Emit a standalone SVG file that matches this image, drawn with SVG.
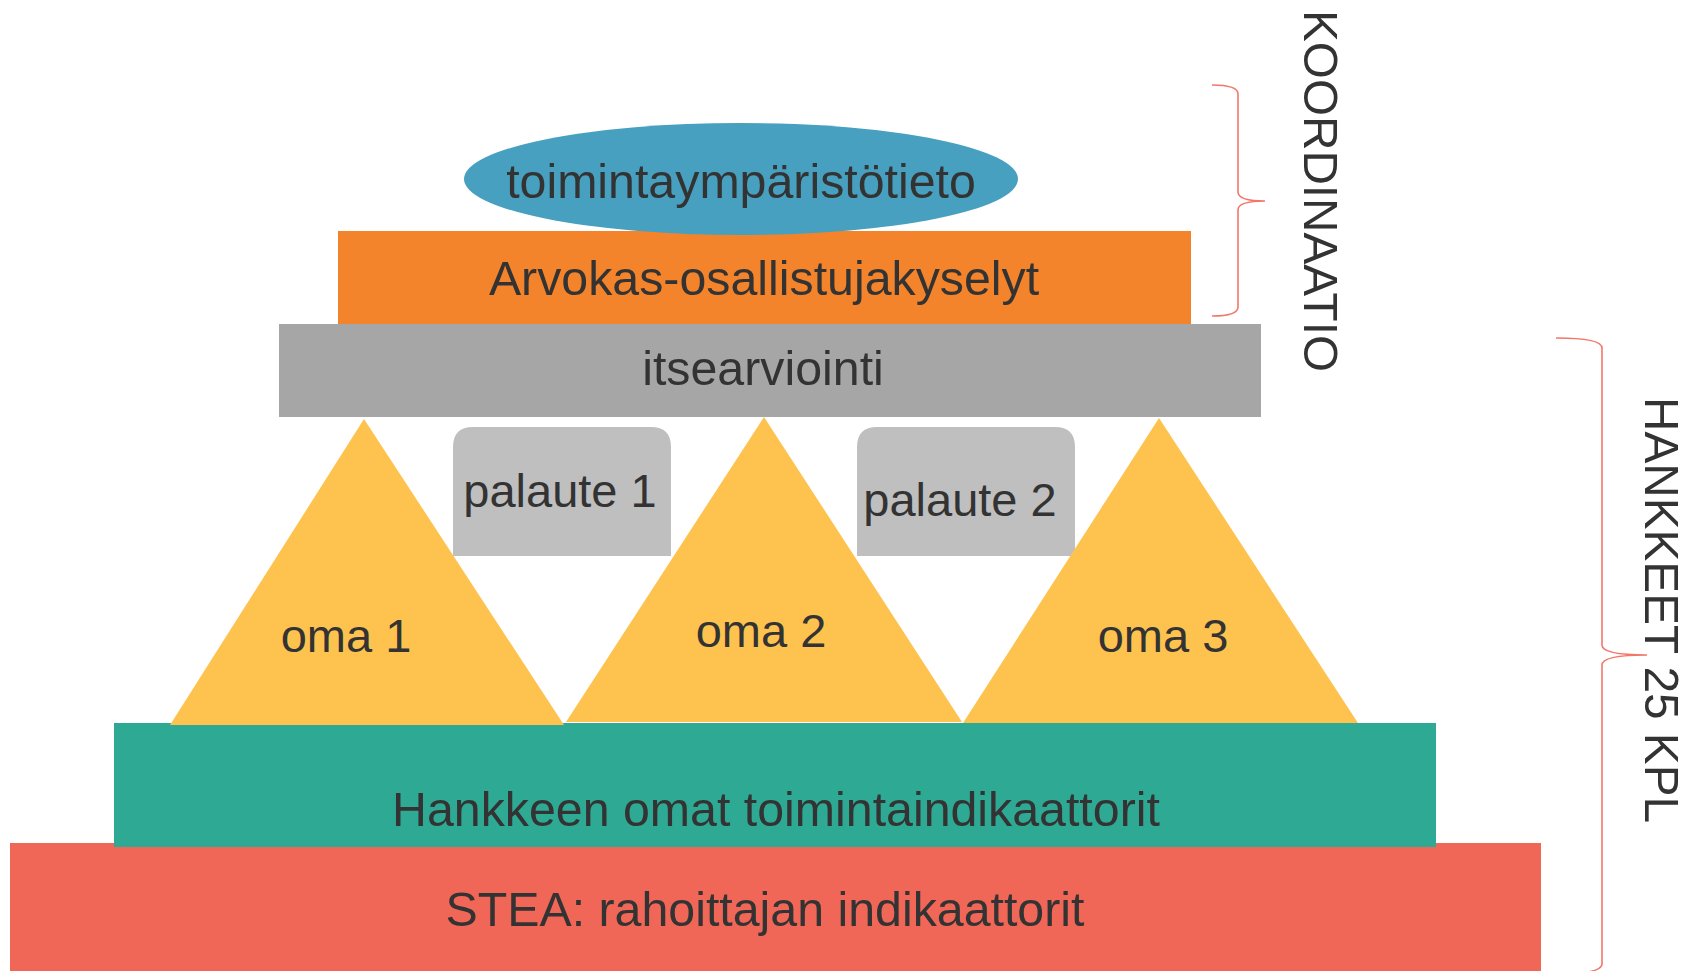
<svg xmlns="http://www.w3.org/2000/svg" width="1694" height="971" viewBox="0 0 1694 971">
<style>
  text { font-family: "Liberation Sans", Arial, sans-serif; fill: #333333; }
  .lbl { font-size: 47px; text-anchor: middle; }
  .big { font-size: 48.3px; text-anchor: middle; }
  .vert { font-size: 49px; text-anchor: middle; }
  .brace { fill: none; stroke: #F2776B; stroke-width: 1.6; }
  .tri { fill: #FEC24F; }
  .pal { fill: #BFBFBF; }
</style>
<rect width="1694" height="971" fill="#FFFFFF"/>

<g id="stea">
  <rect x="10" y="843" width="1531" height="128" fill="#F06757"/>
  <text class="big" x="765" y="926">STEA: rahoittajan indikaattorit</text>
</g>
<g id="hankkeen-omat">
  <rect x="114" y="723" width="1322" height="124" fill="#2EAA94"/>
  <text class="big" x="776" y="826">Hankkeen omat toimintaindikaattorit</text>
</g>
<g id="itsearviointi">
  <rect x="279" y="324" width="982" height="93" fill="#A6A6A6"/>
  <text class="big" x="763" y="385">itsearviointi</text>
</g>
<g id="arvokas">
  <rect x="338" y="231" width="853" height="93" fill="#F4842B"/>
  <text class="big" x="764" y="295">Arvokas-osallistujakyselyt</text>
</g>
<g id="toimintaymparisto">
  <ellipse cx="741" cy="179" rx="277" ry="56" fill="#47A0BF"/>
  <text class="big" x="741" y="198">toimintaympäristötieto</text>
</g>

<g id="palaute1">
  <path class="pal" d="M453,556 L453,447 Q453,427 473,427 L651,427 Q671,427 671,447 L671,556 Z"/>
  <text class="lbl" x="560" y="507">palaute 1</text>
</g>
<g id="palaute2">
  <path class="pal" d="M857,556 L857,447 Q857,427 877,427 L1055,427 Q1075,427 1075,447 L1075,556 Z"/>
  <text class="lbl" x="960" y="516">palaute 2</text>
</g>

<g id="oma1">
  <polygon class="tri" points="364,419 170,725 564,725"/>
  <text class="lbl" x="346" y="652">oma 1</text>
</g>
<g id="oma2">
  <polygon class="tri" points="764,417 566,722 962,722"/>
  <text class="lbl" x="761" y="647">oma 2</text>
</g>
<g id="oma3">
  <polygon class="tri" points="1159,418 963,723 1358,723"/>
  <text class="lbl" x="1163" y="652">oma 3</text>
</g>

<g id="connectors">
  <path class="brace" d="M1212,85 Q1238,85 1238,94 L1238,192 Q1238,201 1265,201 Q1238,201 1238,210 L1238,307 Q1238,316 1212,316"/>
  <path class="brace" d="M1556,338 Q1602,338 1602,348 L1602,645 Q1602,655 1647,655 Q1602,655 1602,665 L1602,964 Q1602,974 1556,974"/>
</g>

<g id="koordinaatio">
  <text class="vert" transform="translate(1304,191) rotate(90)" x="0" y="0" textLength="362" lengthAdjust="spacingAndGlyphs">KOORDINAATIO</text>
</g>
<g id="hankkeet">
  <text class="vert" transform="translate(1645,610) rotate(90)" x="0" y="0" textLength="426" lengthAdjust="spacingAndGlyphs">HANKKEET 25 KPL</text>
</g>
</svg>
